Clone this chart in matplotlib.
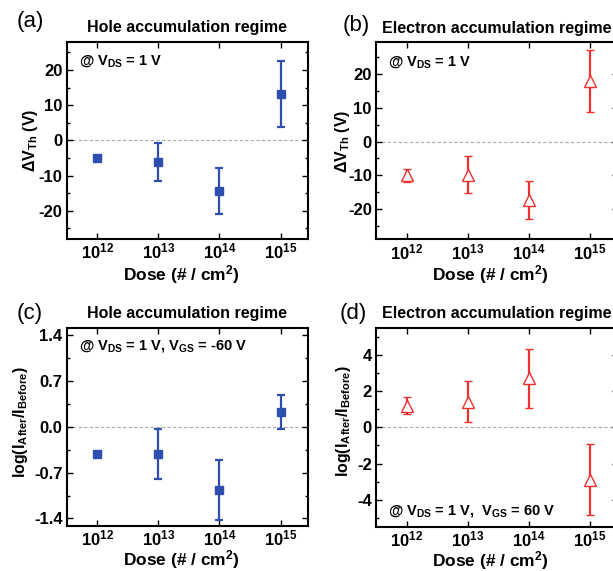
import numpy as np
import matplotlib
matplotlib.use('Agg')
import matplotlib.pyplot as plt
from matplotlib.ticker import MultipleLocator, FormatStrFormatter

plt.rcParams['font.family'] = ['Liberation Sans', 'DejaVu Sans']
plt.rcParams['font.weight'] = 'bold'
plt.rcParams['axes.unicode_minus'] = False
plt.rcParams['mathtext.fontset'] = 'custom'
plt.rcParams['mathtext.rm'] = 'Liberation Sans:bold'
plt.rcParams['mathtext.it'] = 'Liberation Sans:bold'
plt.rcParams['mathtext.bf'] = 'Liberation Sans:bold'

# log10 of dose
dose = [12, 13, 14, 15]
dose_labels = ['10$^{12}$', '10$^{13}$', '10$^{14}$', '10$^{15}$']

# (a) hole accumulation, threshold shift
hole_vth = [-5.0, -6.2, -14.4, 13.2]
hole_vth_err = [0.0, 5.4, 6.6, 9.4]
# (b) electron accumulation, threshold shift
elec_vth = [-10.0, -9.8, -17.3, 18.0]
elec_vth_err = [1.9, 5.5, 5.7, 9.1]
# (c) hole accumulation, current ratio
hole_ratio = [-0.41, -0.42, -0.97, 0.22]
hole_ratio_err = [0.0, 0.38, 0.46, 0.26]
# (d) electron accumulation, current ratio
elec_ratio = [1.2, 1.41, 2.72, -2.88]
elec_ratio_err = [0.49, 1.14, 1.63, 1.96]

blue = '#2f4fae'
red = '#ee3030'

fig = plt.figure(figsize=(6.13, 5.71), dpi=100)
W, H = 613, 571


def make_ax(left, top, right, bottom):
    return fig.add_axes([left / W, 1 - bottom / H, (right - left) / W, (bottom - top) / H])


ax_a = make_ax(66.7, 41.7, 308, 239)
ax_b = make_ax(376, 42.3, 617.5, 239.3)
ax_c = make_ax(66.7, 327.7, 308, 525.7)
ax_d = make_ax(376, 327.7, 617.5, 527)


def style(ax, ylim, major, minor, ylabel, title, note, note_y, ylab_xy, xlab_y):
    ax.set_xlim(11.5, 15.45)
    ax.set_ylim(*ylim)
    ax.set_xticks(dose)
    ax.set_xticklabels(dose_labels)
    ax.yaxis.set_major_locator(MultipleLocator(major))
    ax.yaxis.set_minor_locator(MultipleLocator(minor))
    ax.tick_params(direction='in', top=True, right=True, labelsize=12, width=1.0, length=4, pad=3)
    ax.tick_params(axis='x', pad=2)
    ax.tick_params(which='minor', direction='in', right=True, width=1.0, length=2.5)
    for s in ax.spines.values():
        s.set_linewidth(1.5)
    ax.axhline(0, color='#aaaaaa', lw=0.8, ls=(0, (3, 2)), zorder=0)
    ax.set_xlabel('Dose (# / cm$^2$)', fontsize=12.5, fontweight='bold', va='center')
    ax.set_ylabel(ylabel, fontsize=11.5, fontweight='bold', va='center')
    ax.xaxis.set_label_coords(0.475, xlab_y)
    ax.yaxis.set_label_coords(*ylab_xy)
    ax.set_title(title, fontsize=11.5, fontweight='bold', pad=7)
    ax.text(0.05, note_y, note, transform=ax.transAxes, fontsize=10.5,
            fontweight='bold', ha='left', va='center')


ax_a.errorbar(dose, hole_vth, yerr=hole_vth_err, fmt='s', color=blue, ms=6,
              capsize=3.2, elinewidth=1.6, capthick=1.6)
style(ax_a, (-28, 28), 10, 5, r'$\Delta$V$_{Th}$ (V)', 'Hole accumulation regime',
      '@ V$_{DS}$ = 1 V', 0.90, (-0.152, 0.5), -0.18)

ax_b.errorbar(dose, elec_vth, yerr=elec_vth_err, fmt='^', color=red, mfc='white',
              mec=red, ms=8.5, mew=1.0, capsize=3.2, elinewidth=1.6, capthick=1.6)
style(ax_b, (-29, 29.5), 10, 5, r'$\Delta$V$_{Th}$ (V)', 'Electron accumulation regime',
      '@ V$_{DS}$ = 1 V', 0.90, (-0.14, 0.5), -0.18)

ax_c.errorbar(dose, hole_ratio, yerr=hole_ratio_err, fmt='s', color=blue, ms=6,
              capsize=3.2, elinewidth=1.6, capthick=1.6)
style(ax_c, (-1.51, 1.51), 0.7, 0.35, 'log(I$_{After}$/I$_{Before}$)',
      'Hole accumulation regime', '@ V$_{DS}$ = 1 V, V$_{GS}$ = -60 V', 0.91,
      (-0.19, 0.525), -0.17)
ax_c.yaxis.set_major_formatter(FormatStrFormatter('%.1f'))

ax_d.errorbar(dose, elec_ratio, yerr=elec_ratio_err, fmt='^', color=red, mfc='white',
              mec=red, ms=8.5, mew=1.0, capsize=3.2, elinewidth=1.6, capthick=1.6)
style(ax_d, (-5.5, 5.5), 2, 1, 'log(I$_{After}$/I$_{Before}$)',
      'Electron accumulation regime', '@ V$_{DS}$ = 1 V,  V$_{GS}$ = 60 V', 0.08,
      (-0.136, 0.53), -0.17)

# panel letters
for letter, x, y in [('(a)', 17, 22), ('(b)', 343, 25), ('(c)', 17, 313), ('(d)', 340, 313)]:
    fig.text(x / W, 1 - y / H, letter, fontsize=16, fontweight='normal',
             ha='left', va='center')

fig.savefig('out.png', dpi=100)
